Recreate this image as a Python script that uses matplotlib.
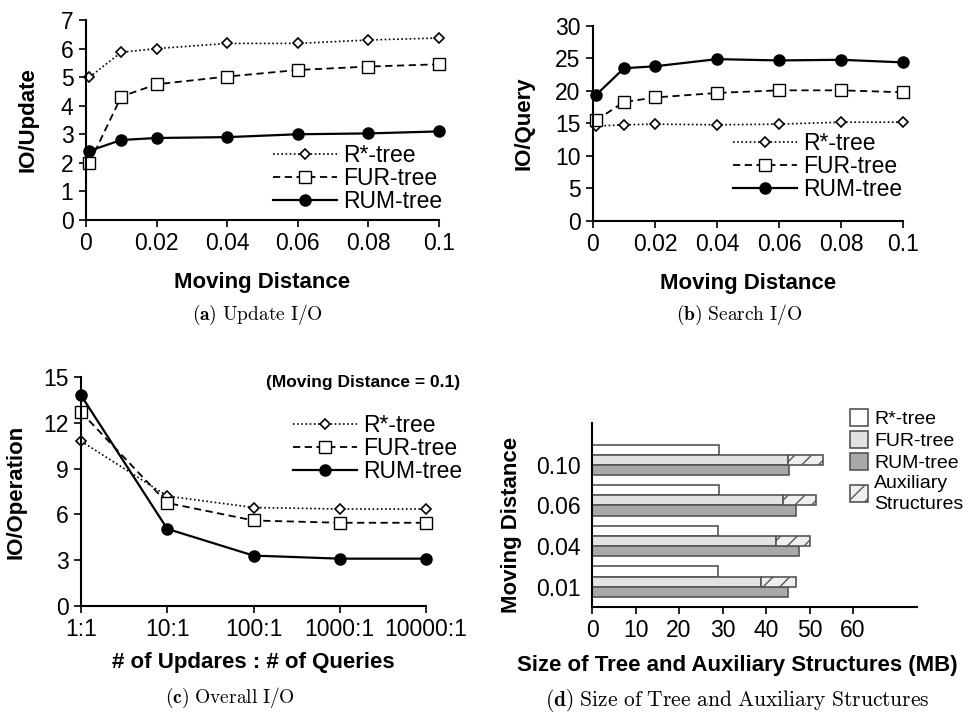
import matplotlib
matplotlib.use("Agg")
import matplotlib.pyplot as plt

# Данные
dist = [0.001, 0.01, 0.02, 0.04, 0.06, 0.08, 0.1]
dist_ticks = [0, 0.02, 0.04, 0.06, 0.08, 0.1]
dist_tick_labels = ["0", "0.02", "0.04", "0.06", "0.08", "0.1"]

upd_rstar = [5.0, 5.87, 6.0, 6.18, 6.18, 6.3, 6.37]
upd_fur = [2.0, 4.32, 4.75, 5.02, 5.25, 5.37, 5.45]
upd_rum = [2.42, 2.8, 2.87, 2.9, 3.0, 3.03, 3.1]

qry_rstar = [14.6, 14.8, 14.9, 14.8, 14.9, 15.2, 15.2]
qry_fur = [15.5, 18.3, 19.0, 19.7, 20.1, 20.1, 19.8]
qry_rum = [19.4, 23.5, 23.8, 24.9, 24.7, 24.8, 24.4]

ratios = ["1:1", "10:1", "100:1", "1000:1", "10000:1"]
op_rstar = [10.8, 7.2, 6.45, 6.35, 6.35]
op_fur = [12.7, 6.75, 5.6, 5.45, 5.45]
op_rum = [13.8, 5.05, 3.3, 3.1, 3.1]

size_dist = ["0.01", "0.04", "0.06", "0.10"]
size_rstar = [28.9, 28.9, 29.3, 29.3]
size_fur = [38.8, 42.4, 44.0, 45.1]
size_aux = [8.1, 7.7, 7.6, 8.0]
size_rum = [45.1, 47.6, 46.9, 45.3]

plt.rcParams["font.family"] = ["Liberation Sans", "DejaVu Sans"]
plt.rcParams["mathtext.fontset"] = "cm"
plt.rcParams["hatch.linewidth"] = 1.0

fig = plt.figure(figsize=(9.68, 7.14), dpi=100)

TICK = 16.5
LAB = 16


def style(ax):
    for s in ["top", "right"]:
        ax.spines[s].set_visible(False)
    for s in ["left", "bottom"]:
        ax.spines[s].set_linewidth(1.5)
    ax.tick_params(direction="out", length=5, width=1.2, labelsize=TICK, pad=4)


def lines(ax, x, a, b, c):
    ax.plot(x, a, color="black", ls=(0, (1, 1.5)), lw=1.2, marker="D", ms=5.5,
            mfc="white", mec="black", mew=1.2, label="R*-tree", clip_on=False)
    ax.plot(x, b, color="black", ls=(0, (4, 2.5)), lw=1.3, marker="s", ms=8,
            mfc="white", mec="black", mew=1.0, label="FUR-tree", clip_on=False)
    ax.plot(x, c, color="black", ls="-", lw=1.6, marker="o", ms=8,
            mfc="black", mec="black", label="RUM-tree", clip_on=False)


def leg(ax, x, y):
    ax.legend(loc="center left", bbox_to_anchor=(x, y), frameon=False,
              fontsize=16.5, handlelength=2.8, handletextpad=0.25,
              labelspacing=0.0, borderpad=0, borderaxespad=0)


# (a) Update I/O
ax = fig.add_axes([0.0888, 0.6919, 0.3647, 0.2801])
lines(ax, dist, upd_rstar, upd_fur, upd_rum)
ax.set_xlim(0, 0.1)
ax.set_ylim(0, 7)
ax.set_xticks(dist_ticks)
ax.set_xticklabels(dist_tick_labels)
ax.set_yticks(range(0, 8))
style(ax)
ax.set_xlabel("Moving Distance", fontsize=LAB, fontweight="bold")
ax.set_ylabel("IO/Update", fontsize=LAB, fontweight="bold")
ax.xaxis.set_label_coords(0.5, -0.26)
ax.yaxis.set_label_coords(-0.135, 0.5)
leg(ax, 0.53, 0.205)

# (b) Search I/O
ax = fig.add_axes([0.6126, 0.6905, 0.3203, 0.2731])
lines(ax, dist, qry_rstar, qry_fur, qry_rum)
ax.set_xlim(0, 0.1)
ax.set_ylim(0, 30)
ax.set_xticks(dist_ticks)
ax.set_xticklabels(dist_tick_labels)
ax.set_yticks(range(0, 31, 5))
style(ax)
ax.set_xlabel("Moving Distance", fontsize=LAB, fontweight="bold")
ax.set_ylabel("IO/Query", fontsize=LAB, fontweight="bold")
ax.xaxis.set_label_coords(0.5, -0.267)
ax.yaxis.set_label_coords(-0.19, 0.5)
leg(ax, 0.452, 0.277)

# (c) Overall I/O
ax = fig.add_axes([0.0837, 0.1513, 0.3564, 0.3207])
pos = list(range(len(ratios)))
lines(ax, pos, op_rstar, op_fur, op_rum)
ax.set_xlim(0, len(ratios) - 1)
ax.set_ylim(0, 15)
ax.set_xticks(pos)
ax.set_xticklabels(ratios)
ax.set_yticks(range(0, 16, 3))
style(ax)
ax.set_xlabel("# of Updares : # of Queries", fontsize=LAB, fontweight="bold")
ax.set_ylabel("IO/Operation", fontsize=LAB, fontweight="bold")
ax.xaxis.set_label_coords(0.5, -0.20)
ax.yaxis.set_label_coords(-0.157, 0.5)
leg(ax, 0.614, 0.686)
fig.text(0.475, 0.4636, "(Moving Distance = 0.1)", ha="right", va="center",
         fontsize=12.5, fontweight="bold")

# (d) Size of Tree and Auxiliary Structures
ax = fig.add_axes([0.6116, 0.1499, 0.3357, 0.2577])
h = 0.25
ypos = list(range(len(size_dist)))
edge = "#555555"
ax.barh([y + 1.5 * h for y in ypos], size_rstar, height=h, color="white",
        edgecolor=edge, lw=1.2, label="R*-tree")
ax.barh([y + 0.5 * h for y in ypos], size_fur, height=h, color="#e2e2e2",
        edgecolor=edge, lw=1.2, label="FUR-tree")
ax.barh([y - 0.5 * h for y in ypos], size_rum, height=h, color="#a9a9a9",
        edgecolor=edge, lw=1.2, label="RUM-tree")
ax.barh([y + 0.5 * h for y in ypos], size_aux, left=size_fur, height=h,
        color="#efefef", edgecolor=edge, hatch="//", lw=1.2,
        label="Auxiliary\nStructures")
ax.set_xlim(0, 74.7)
ax.set_ylim(-0.5, 4.03)
ax.set_xticks(range(0, 61, 10))
ax.set_yticks(ypos)
ax.set_yticklabels(size_dist)
style(ax)
ax.tick_params(axis="y", length=0, pad=8)
ax.set_xlabel("Size of Tree and Auxiliary Structures (MB)", fontsize=LAB,
              fontweight="bold")
ax.set_ylabel("Moving Distance", fontsize=LAB, fontweight="bold")
ax.xaxis.set_label_coords(0.446, -0.26)
ax.yaxis.set_label_coords(-0.215, 0.446)
lg = fig.legend(*ax.get_legend_handles_labels(), loc="upper left",
                bbox_to_anchor=(850 / 968, 1 - 409 / 714), frameon=False,
                fontsize=14, handlelength=0.95, handleheight=0.95,
                handletextpad=0.3, labelspacing=0.15, borderpad=0,
                borderaxespad=0)
for t in lg.get_texts():
    t.set_multialignment("left")
    t.set_linespacing(1.3)

# Подписи панелей
caps = [(257, 315, "a", "Update\\ I/O", 14), (739, 315, "b", "Search\\ I/O", 14),
        (230, 698, "c", "Overall\\ I/O", 14),
        (737, 700, "d", "Size\\ of\\ Tree\\ and\\ Auxiliary\\ Structures", 15.5)]
for cx, cy, l, t, fs in caps:
    fig.text(cx / 968, 1 - cy / 714, r"$\mathbf{(%s)}\ \mathrm{%s}$" % (l, t),
             ha="center", va="center", fontsize=fs)

fig.savefig("out.png", dpi=100)
